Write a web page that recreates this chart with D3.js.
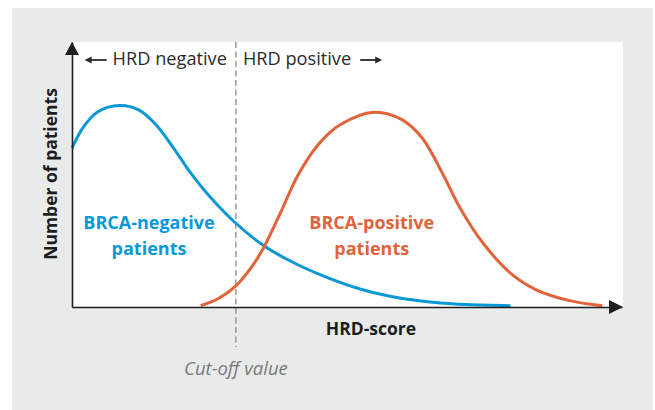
<!DOCTYPE html>
<html>
<head>
<meta charset="utf-8">
<script src="https://cdn.jsdelivr.net/npm/d3@7"></script>
<style>
  body { margin: 0; background: #fff; }
  text { font-family: "Open Sans", "Noto Sans", sans-serif; }
</style>
</head>
<body>
<svg id="svg"></svg>
<script>
// HRD-score vs number of patients (arbitrary units)
const negScore = [0, 2.1, 4.7, 8.7, 12.2, 15.3, 18.5, 21.6, 24.8, 29.8, 35.1, 40.5, 46.8, 53.0, 59.3, 65.6, 71.9, 79.7];
const negCount = [60.0, 68.0, 73.7, 76.0, 74.3, 68.7, 59.9, 50.5, 42.3, 31.6, 22.8, 16.5, 10.8, 6.4, 3.5, 1.8, 0.9, 0.5];
const posScore = [23.4, 26.7, 29.8, 32.9, 35.1, 38.0, 41.1, 44.9, 48.6, 54.9, 59.9, 63.7, 67.5, 70.6, 75.0, 80.1, 84.5, 90.7, 96.4];
const posCount = [0.5, 3.3, 8.0, 15.8, 23.4, 36.0, 49.8, 61.6, 68.6, 73.5, 70.8, 63.7, 49.8, 37.2, 23.4, 12.1, 6.4, 2.3, 0.5];
const cutOff = 29.8;
const seriesLabels = [["BRCA-negative", "patients"], ["BRCA-positive", "patients"]];
const labelAt = [14.0, 54.5]; // score where each label is centred

function sketch() {
    let width = 655, height = 410;
    let blue = "#0898d8";
    let orange = "#e0633a";
    let ink = "#1e1e1e";

    let svg = d3.select("#svg")
        .attr("width", width)
        .attr("height", height);

    // grey panel + white plot field
    svg.append("rect")
        .attr("x", 12).attr("y", 8)
        .attr("width", 641).attr("height", 402)
        .attr("fill", "#e9eaea");

    let left = 72, right = 622, top = 42, bottom = 307;
    svg.append("rect")
        .attr("x", left).attr("y", top)
        .attr("width", 623 - left).attr("height", bottom - top)
        .attr("fill", "#fff");

    let x = d3.scaleLinear().domain([0, 100]).range([left, right]);
    let y = d3.scaleLinear().domain([0, 100]).range([bottom, top]);

    // cut-off line
    svg.append("line")
        .attr("x1", x(cutOff)).attr("x2", x(cutOff))
        .attr("y1", top).attr("y2", 347)
        .attr("stroke", "#8a8a8a")
        .attr("stroke-width", 1.3)
        .attr("stroke-dasharray", "6,3.5");

    // curves
    let line = d3.line()
        .x(d => x(d[0]))
        .y(d => y(d[1]))
        .curve(d3.curveCatmullRom.alpha(0.5));

    let series = [
        { pts: d3.zip(negScore, negCount), color: blue },
        { pts: d3.zip(posScore, posCount), color: orange }
    ];

    svg.selectAll("path.curve")
        .data(series)
        .enter().append("path")
        .attr("class", "curve")
        .attr("d", d => line(d.pts))
        .attr("fill", "none")
        .attr("stroke", d => d.color)
        .attr("stroke-width", 3);

    // axes without ticks, then arrow heads
    svg.append("g")
        .attr("transform", `translate(0,${bottom})`)
        .call(d3.axisBottom(x).tickValues([]).tickSizeOuter(0))
        .select(".domain").attr("stroke", ink).attr("stroke-width", 1.6);
    svg.append("g")
        .attr("transform", `translate(${left},0)`)
        .call(d3.axisLeft(y).tickValues([]).tickSizeOuter(0))
        .select(".domain").attr("stroke", ink).attr("stroke-width", 1.6);

    svg.append("path")
        .attr("d", `M${right - 13},${bottom - 7} L${right + 1},${bottom} L${right - 13},${bottom + 7} Z`)
        .attr("fill", ink);
    svg.append("path")
        .attr("d", `M${left - 7},${top + 13} L${left},${top} L${left + 7},${top + 13} Z`)
        .attr("fill", ink);

    // axis titles
    svg.append("text")
        .attr("x", 371).attr("y", 335)
        .attr("text-anchor", "middle")
        .attr("font-size", 17.5).attr("font-weight", "bold")
        .attr("fill", ink)
        .text("HRD-score");

    svg.append("text")
        .attr("transform", "translate(57,174) rotate(-90)")
        .attr("text-anchor", "middle")
        .attr("font-size", 17.5).attr("font-weight", "bold")
        .attr("fill", ink)
        .text("Number of patients");

    svg.append("text")
        .attr("x", x(cutOff)).attr("y", 375)
        .attr("text-anchor", "middle")
        .attr("font-size", 18.5).attr("font-style", "italic")
        .attr("fill", "#7a7a7a")
        .text("Cut-off value");

    // HRD negative / positive headers with arrows
    let neg = svg.append("text")
        .attr("x", x(cutOff) - 9).attr("y", 65)
        .attr("text-anchor", "end")
        .attr("font-size", 18.2).attr("fill", "#2a2a2a")
        .text("HRD negative");
    let pos = svg.append("text")
        .attr("x", x(cutOff) + 7).attr("y", 65)
        .attr("font-size", 18.2).attr("fill", "#2a2a2a")
        .text("HRD positive");

    let negStart = x(cutOff) - 9 - neg.node().getComputedTextLength();
    let posEnd = x(cutOff) + 7 + pos.node().getComputedTextLength();
    let arrow = (x0, x1) => {
        let dir = x1 > x0 ? 1 : -1;
        svg.append("line")
            .attr("x1", x0).attr("x2", x1 - dir * 5)
            .attr("y1", 60).attr("y2", 60)
            .attr("stroke", "#2a2a2a").attr("stroke-width", 1.8);
        svg.append("path")
            .attr("d", `M${x1},60 L${x1 - dir * 7},56.5 L${x1 - dir * 7},63.5 Z`)
            .attr("fill", "#2a2a2a");
    };
    arrow(negStart - 6, negStart - 28);
    arrow(posEnd + 9, posEnd + 31);

    // series labels
    let colors = [blue, orange];
    seriesLabels.forEach((lines, i) => {
        let t = svg.append("text")
            .attr("text-anchor", "middle")
            .attr("font-size", 18).attr("font-weight", "bold")
            .attr("fill", colors[i]);
        lines.forEach((s, j) => {
            t.append("tspan")
                .attr("x", x(labelAt[i]))
                .attr("y", 229 + j * 25.5)
                .text(s);
        });
    });
}

sketch();
</script>
</body>
</html>
